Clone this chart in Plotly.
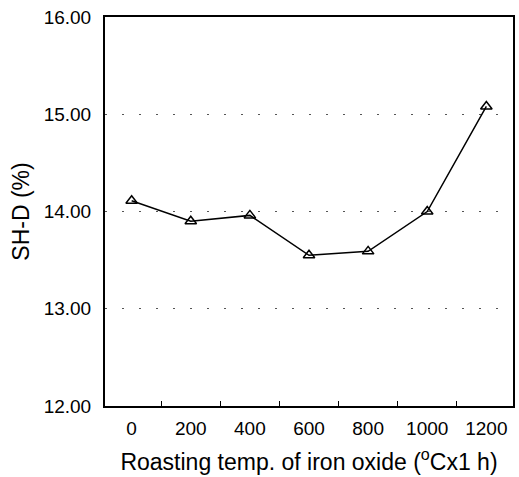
import plotly.graph_objects as go

categories = ["0", "200", "400", "600", "800", "1000", "1200"]
shd_values = [14.11, 13.90, 13.96, 13.55, 13.59, 14.00, 15.08]
y_ticks = [12, 13, 14, 15, 16]
y_tick_labels = ["12.00", "13.00", "14.00", "15.00", "16.00"]

fig = go.Figure()
fig.add_trace(go.Scatter(
    x=categories, y=shd_values, mode="lines+markers",
    line=dict(color="black", width=1.5),
    marker=dict(symbol="triangle-up-open", size=10, color="black", line=dict(width=1.5)),
    showlegend=False,
))

font = dict(family="Liberation Sans, Arial, sans-serif", size=19, color="black")
fig.update_layout(
    width=519, height=477,
    margin=dict(l=105, r=4, t=17, b=71),
    paper_bgcolor="white", plot_bgcolor="white",
    font=font,
    xaxis=dict(
        type="category", tickson="boundaries", ticks="inside", ticklen=5,
        tickcolor="black", tickwidth=1,
        showline=True, linecolor="black", linewidth=2, mirror=True,
        showgrid=False, zeroline=False,
        title=dict(text="Roasting temp. of iron oxide (<sup>o</sup>Cx1 h)", standoff=16),
        ticklabelstandoff=4,
    ),
    yaxis=dict(
        range=[12, 16], tickvals=y_ticks, ticktext=y_tick_labels,
        ticks="", showline=True, linecolor="black", linewidth=2, mirror=True,
        showgrid=True, gridcolor="#555", gridwidth=1, griddash="2px,15px",
        zeroline=False,
        title=dict(text="SH-D (%)", standoff=8),
        ticklabelstandoff=8,
    ),
)
fig.write_html("out.html")
